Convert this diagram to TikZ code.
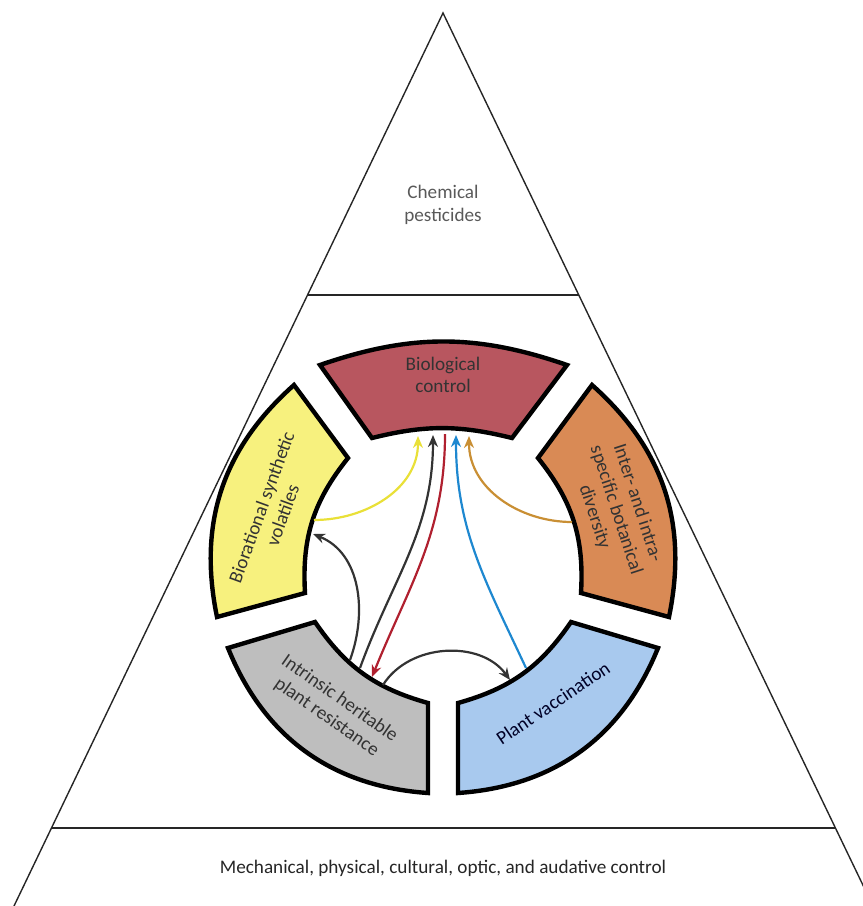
\documentclass[tikz,border=0pt]{standalone}
\usepackage{fontspec}
\setmainfont{Carlito}
\usepackage{xcolor}
\usepackage{tikz}
\usetikzlibrary{arrows.meta,calc}

\definecolor{biored}{HTML}{B8565F}
\definecolor{synyellow}{HTML}{F7F17E}
\definecolor{divorange}{HTML}{D98A55}
\definecolor{resgray}{HTML}{BEBEBE}
\definecolor{vacblue}{HTML}{A8C9EE}
\definecolor{yelarrow}{HTML}{E9E038}
\definecolor{orarrow}{HTML}{C98F34}
\definecolor{redarrow}{HTML}{B0202F}
\definecolor{bluarrow}{HTML}{1E88D0}

\begin{document}
\begin{tikzpicture}[x=0.5pt, y=0.5pt, >={Stealth[length=6pt,width=5pt]},
  tier/.style={draw=black!85, line width=0.7pt},
  seg/.style={draw=black, line width=2.2pt},
  lbl/.style={font=\fontsize{9.6}{11.3}\selectfont, align=center, text=black!80},
  tierlbl/.style={lbl, text=black!65},
  arr/.style={->, line width=1.1pt, color=black!80}
]
\useasboundingbox (0,0) rectangle (863,-906);
\clip (0,0) rectangle (863,-906);

% Pyramid
\coordinate (apex) at (443,-13);
\coordinate (lbase) at (14,-906);
\coordinate (rbase) at (873,-906);
\draw[tier] (lbase) -- (apex) -- (rbase);
\draw[tier] ($(apex)!0.3158!(lbase)$) -- ($(apex)!0.3158!(rbase)$);
\draw[tier] ($(apex)!0.9127!(lbase)$) -- ($(apex)!0.9127!(rbase)$);

\node[tierlbl] (chem) at (443,-205) {Chemical\\pesticides};
\node[tierlbl, text=black!85] (mech) at (443,-868)
  {Mechanical, physical, cultural, optic, and audative control};

% Ring segments
\filldraw[seg, fill=biored] (320,-365) to[bend left=19] (567,-365)
  -- (512,-438) to[bend right=14] (372,-438) -- cycle;
\filldraw[seg, fill=synyellow] (294,-385) to[bend right=30] (217,-617)
  -- (305,-593) to[bend left=21] (348,-458) -- cycle;
\filldraw[seg, fill=divorange] (592,-385) to[bend left=30] (669,-617)
  -- (581,-593) to[bend right=21] (538,-458) -- cycle;
\filldraw[seg, fill=resgray] (228,-648) to[bend right=32] (428,-793)
  -- (428,-703) to[bend left=20] (315,-622) -- cycle;
\filldraw[seg, fill=vacblue] (658,-648) to[bend left=32] (458,-793)
  -- (458,-703) to[bend right=20] (571,-622) -- cycle;

\node[lbl] (bio) at (443,-375) {Biological\\control};
\node[lbl, rotate=70] (syn) at (272,-511) {Biorational synthetic\\volatiles};
\node[lbl, rotate=-72] (div) at (616,-510) {Inter- and intra-\\specific botanical\\diversity};
\node[lbl, rotate=-35] (res) at (333,-708) {Intrinsic heritable\\plant resistance};
\node[lbl, rotate=34, text=black!85!blue] (vac) at (553,-703) {Plant vaccination};

% Arrow ends
\coordinate (bioy) at (418,-436);
\coordinate (biok) at (433,-435);
\coordinate (bior) at (445,-434);
\coordinate (biob) at (456,-435);
\coordinate (bioo) at (469,-436);
\coordinate (synout) at (314,-520);
\coordinate (synin) at (313,-534);
\coordinate (divout) at (572,-522);
\coordinate (resy) at (350,-660);
\coordinate (resk) at (360,-668);
\coordinate (resr) at (372,-677);
\coordinate (resb) at (383,-685);
\coordinate (vack) at (510,-680);
\coordinate (vacout) at (526,-668);

% Arrows
\draw[arr, color=yelarrow] (synout) to[out=0, in=-90] (bioy);
\draw[arr, color=orarrow] (divout) to[out=180, in=-90] (bioo);
\draw[arr] (resk) to[out=70, in=-90] (biok);
\draw[arr, color=redarrow] (bior) to[out=-90, in=68] (resr);
\draw[arr, color=bluarrow] (vacout) to[out=115, in=-90] (biob);
\draw[arr] (resy) to[out=70, in=-22] (synin);
\draw[arr] (resb) to[out=58, in=126] (vack);
\end{tikzpicture}
\end{document}
